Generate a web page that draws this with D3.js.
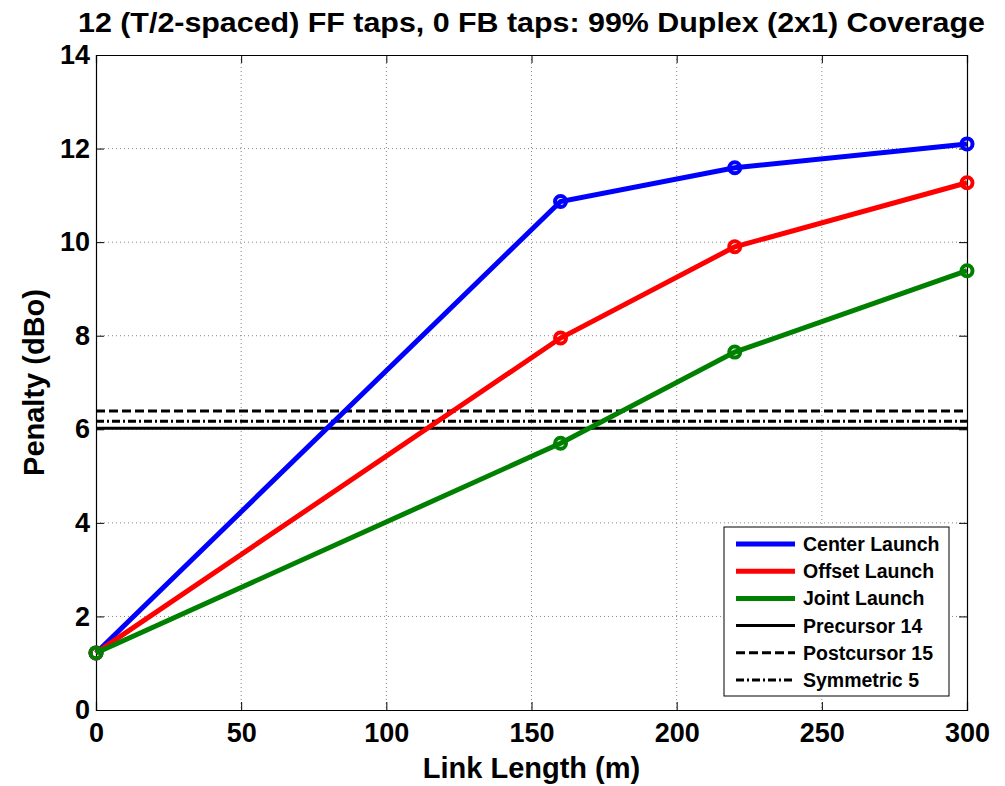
<!DOCTYPE html>
<html>
<head>
<meta charset="utf-8">
<script src="https://cdn.jsdelivr.net/npm/d3@7"></script>
<style>
  body { margin: 0; background: #fff; }
  text { font-family: "Liberation Sans", Arial, sans-serif; font-weight: bold; }
</style>
</head>
<body>
<svg id="chart" width="1005" height="786"></svg>
<script>
// link lengths (m)
const linkLength = [0, 160, 220, 300];
const centerLaunch = [1.22, 10.87, 11.59, 12.1];
const offsetLaunch = [1.22, 7.95, 9.9, 11.27];
const jointLaunch = [1.22, 5.7, 7.65, 9.39];
// horizontal reference levels
const precursor14 = 6.02;
const postcursor15 = 6.39;
const symmetric5 = 6.17;
const xTicks = [0, 50, 100, 150, 200, 250, 300];
const yTicks = [0, 2, 4, 6, 8, 10, 12, 14];

const series = [
  {name: "Center Launch", vals: centerLaunch, color: "#0000ff"},
  {name: "Offset Launch", vals: offsetLaunch, color: "#ff0000"},
  {name: "Joint Launch", vals: jointLaunch, color: "#008000"}
];
const refs = [
  {name: "Precursor 14", val: precursor14, dash: null},
  {name: "Postcursor 15", val: postcursor15, dash: "9,4"},
  {name: "Symmetric 5", val: symmetric5, dash: "8,3,2,3"}
];

const svg = d3.select("#chart");
const mL = 96, mR = 967, mT = 55, mB = 710;

const x = d3.scaleLinear().domain([0, 300]).range([mL, mR]);
const y = d3.scaleLinear().domain([0, 14]).range([mB, mT]);

// grid
const grid = svg.append("g");
xTicks.slice(1, -1).forEach(t => {
  grid.append("line")
    .attr("x1", x(t)).attr("x2", x(t)).attr("y1", mT).attr("y2", mB)
    .attr("stroke", "#888").attr("stroke-width", 1).attr("stroke-dasharray", "1,3");
});
yTicks.slice(1, -1).forEach(t => {
  grid.append("line")
    .attr("x1", mL).attr("x2", mR).attr("y1", y(t)).attr("y2", y(t))
    .attr("stroke", "#888").attr("stroke-width", 1).attr("stroke-dasharray", "1,3");
});

// axes
const xAxis = svg.append("g").attr("transform", `translate(0,${mB})`)
  .call(d3.axisBottom(x).tickValues(xTicks).tickSize(-8).tickPadding(12).tickFormat(d3.format("d")));
const yAxis = svg.append("g").attr("transform", `translate(${mL},0)`)
  .call(d3.axisLeft(y).tickValues(yTicks).tickSize(-8).tickPadding(6).tickFormat(d3.format("d")));
svg.append("g").attr("transform", `translate(0,${mT})`)
  .call(d3.axisTop(x).tickValues(xTicks).tickSize(-8).tickFormat(""));
svg.append("g").attr("transform", `translate(${mR},0)`)
  .call(d3.axisRight(y).tickValues(yTicks).tickSize(-8).tickFormat(""));
svg.selectAll(".domain").attr("stroke", "#000").attr("stroke-width", 1.2);
svg.selectAll(".tick line").attr("stroke", "#000");
[xAxis, yAxis].forEach(a => a.selectAll("text")
  .style("font-size", "27px").style("font-weight", "bold").style("font-family", "'Liberation Sans', Arial, sans-serif")
  .attr("fill", "#000"));
xAxis.selectAll("text").attr("dy", "0.75em");

// reference lines
refs.forEach(r => {
  svg.append("line")
    .attr("x1", mL).attr("x2", mR).attr("y1", y(r.val)).attr("y2", y(r.val))
    .attr("stroke", "#000").attr("stroke-width", 3)
    .attr("stroke-dasharray", r.dash);
});

// series
const line = d3.line().x((d, i) => x(linkLength[i])).y(d => y(d));
series.forEach(s => {
  svg.append("path").datum(s.vals)
    .attr("d", line).attr("fill", "none")
    .attr("stroke", s.color).attr("stroke-width", 5);
  svg.selectAll(null).data(s.vals).enter().append("circle")
    .attr("cx", (d, i) => x(linkLength[i])).attr("cy", d => y(d))
    .attr("r", 5.5).attr("fill", "none")
    .attr("stroke", s.color).attr("stroke-width", 4);
});

// legend
const lg = svg.append("g");
lg.append("rect").attr("x", 724).attr("y", 527).attr("width", 225).attr("height", 169)
  .attr("fill", "#fff").attr("stroke", "#000").attr("stroke-width", 1);
const items = series.map(s => ({name: s.name, color: s.color, dash: null}))
  .concat(refs.map(r => ({name: r.name, color: "#000", dash: r.dash})));
items.forEach((it, i) => {
  const yy = 544 + i * 27.2;
  lg.append("line").attr("x1", 736).attr("x2", 795).attr("y1", yy).attr("y2", yy)
    .attr("stroke", it.color).attr("stroke-width", i < 3 ? 5 : 3)
    .attr("stroke-dasharray", it.dash);
  lg.append("text").attr("x", 803).attr("y", yy + 7)
    .style("font-size", "19.5px").text(it.name);
});

// title and labels
svg.append("text").attr("x", x(150)).attr("y", 32).attr("text-anchor", "middle")
  .attr("textLength", 907).attr("lengthAdjust", "spacingAndGlyphs")
  .style("font-size", "28px").text("12 (T/2-spaced) FF taps, 0 FB taps: 99% Duplex (2x1) Coverage");
svg.append("text").attr("x", x(150)).attr("y", 778).attr("text-anchor", "middle")
  .style("font-size", "29px").text("Link Length (m)");
svg.append("text").attr("transform", `translate(44,${(mT + mB) / 2}) rotate(-90)`)
  .attr("text-anchor", "middle").style("font-size", "29px").text("Penalty (dBo)");
</script>
</body>
</html>
